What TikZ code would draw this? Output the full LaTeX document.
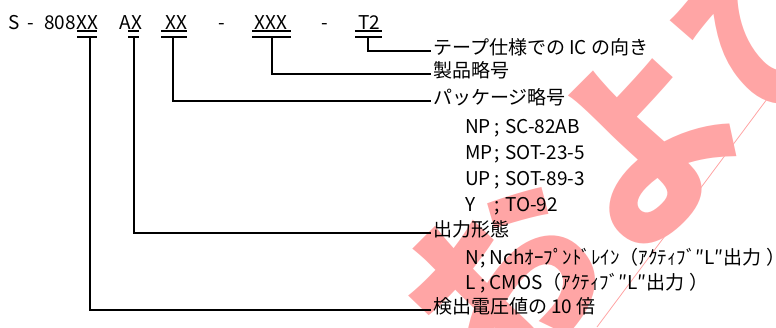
\documentclass[tikz,border=0pt]{standalone}
\usepackage{fontspec}
\setmainfont{Noto Sans CJK JP}
\definecolor{wm}{RGB}{255,165,165}
\begin{document}
\begin{tikzpicture}[x=1pt,y=-1pt,
  fs/.style={font=\fontsize{19}{19}\selectfont},
  top/.style={fs, anchor=base, inner sep=0pt},
  lbl/.style={fs, anchor=west, inner ysep=0pt, inner xsep=2pt, text height=0.83em, text depth=0.07em},
  sub/.style={fs, anchor=west, inner sep=0pt, text height=0.83em, text depth=0.07em},
  bar/.style={line width=1.4pt},
  lead/.style={line width=1.4pt}]
\useasboundingbox (0,0) rectangle (776,327);
% watermark
\begin{scope}
\clip (0,0) rectangle (776,327);
\node[text=wm, font=\fontsize{195}{195}\bfseries\selectfont, rotate=45, inner sep=0pt] (wmtext) at (640,142) {および};
\coordinate (wma) at (597,327);
\coordinate (wmb) at (776,87);
\draw[wm, line width=0.8pt] (wma) -- (wmb);
\end{scope}
% top part number
\node[top] (tS) at (14,29) {S};
\node[top] (tD1) at (31,29) {-};
\node[top] (t808) at (60,29) {808};
\node[top] (tXX1) at (87,29) {XX};
\node[top] (tAX) at (131,29) {AX};
\node[top] (tXX2) at (176,29) {XX};
\node[top] (tD2) at (222,29) {-};
\node[top] (tXXX) at (271,29) {XXX};
\node[top] (tD3) at (325,29) {-};
\node[top] (tT2) at (369,29) {T2};
% double bars
\draw[bar] (77,31) -- (97,31) (77,37) -- (97,37);
\draw[bar] (128,31) -- (139,31) (128,37) -- (139,37);
\draw[bar] (161,31) -- (187,31) (161,37) -- (187,37);
\draw[bar] (252,31) -- (291,31) (252,37) -- (291,37);
\draw[bar] (355,31) -- (382,31) (355,37) -- (382,37);
\coordinate (v1) at (90,37);
\coordinate (v2) at (134,37);
\coordinate (v3) at (173,37);
\coordinate (v4) at (272,37);
\coordinate (v5) at (368,37);
% labels
\node[lbl] (l5) at (431,51) {テープ仕様での IC の向き};
\node[lbl] (l4) at (431,74) {製品略号};
\node[lbl] (l3) at (431,101) {パッケージ略号};
\node[sub] (p1) at (465,130) {\makebox[29pt][l]{NP}\makebox[11pt][l]{;}SC-82AB};
\node[sub] (p2) at (465,156) {\makebox[29pt][l]{MP}\makebox[11pt][l]{;}SOT-23-5};
\node[sub] (p3) at (465,182) {\makebox[29pt][l]{UP}\makebox[11pt][l]{;}SOT-89-3};
\node[sub] (p4) at (465,208) {\makebox[29pt][l]{Y}\makebox[11pt][l]{;}TO-92};
\node[lbl] (l2) at (431,233) {出力形態};
\node[sub] (o1) at (465,261) {\makebox[15.5pt][l]{N}\makebox[9pt][l]{;}Nchｵｰﾌﾟﾝﾄﾞﾚｲﾝ（ｱｸﾃｨﾌﾞ″L″出力\hspace{5pt}）};
\node[sub] (o2) at (465,286) {\makebox[15.5pt][l]{L}\makebox[9pt][l]{;}CMOS（ｱｸﾃｨﾌﾞ″L″出力\hspace{5pt}）};
\node[lbl] (l1) at (431,310) {検出電圧値の 10 倍};
% leaders
\draw[lead] (v5) |- (l5.west);
\draw[lead] (v4) |- (l4.west);
\draw[lead] (v3) |- (l3.west);
\draw[lead] (v2) |- (l2.west);
\draw[lead] (v1) |- (l1.west);
\end{tikzpicture}
\end{document}
